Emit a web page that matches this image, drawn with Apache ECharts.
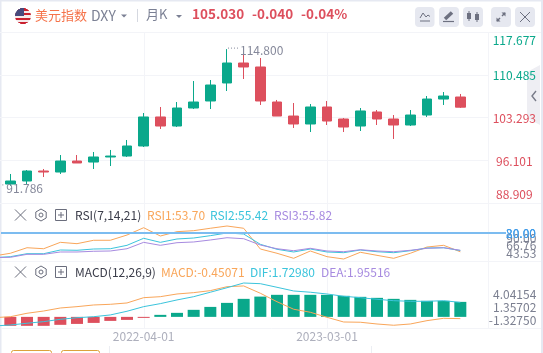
<!DOCTYPE html>
<html><head><meta charset="utf-8">
<style>html,body{margin:0;padding:0;background:#fff}#c{width:543px;height:353px}</style>
<script src="https://cdn.jsdelivr.net/npm/echarts@6/dist/echarts.min.js"></script>
</head><body><div id="c"></div>
<script>
const months = ['2021-07-01','2021-08-01','2021-09-01','2021-10-01','2021-11-01','2021-12-01','2022-01-01','2022-02-01','2022-03-01','2022-04-01','2022-05-01','2022-06-01','2022-07-01','2022-08-01','2022-09-01','2022-10-01','2022-11-01','2022-12-01','2023-01-01','2023-02-01','2023-03-01','2023-04-01','2023-05-01','2023-06-01','2023-07-01','2023-08-01','2023-09-01','2023-10-01','2023-11-01',''];
// open, close, low, high
const ohlc = ['-',
[92.10,92.61,91.786,93.79],[92.61,94.29,91.94,94.46],[94.29,94.12,93.28,94.63],[94.12,95.97,93.79,96.98],
[95.97,95.64,95.64,96.98],[95.80,96.65,94.63,97.49],[96.65,96.81,95.13,97.83],[96.81,98.50,96.65,99.51],
[98.50,103.38,98.33,104.05],[103.38,101.86,101.36,105.06],[101.86,104.89,101.69,105.90],[104.89,105.90,104.72,109.43],
[106.07,108.76,104.72,109.60],[109.10,112.46,107.75,114.80],[112.46,111.79,109.77,114.14],[111.79,106.07,105.40,113.30],
[105.90,103.54,103.54,106.24],[103.54,102.20,101.53,105.73],[102.20,105.06,100.85,105.56],[105.06,102.70,102.03,106.07],
[103.04,101.69,100.85,103.21],[101.86,104.39,101.02,104.89],[104.22,103.04,102.03,104.55],[103.04,102.03,99.68,103.71],
[102.03,103.71,101.86,104.55],[103.71,106.40,103.38,106.91],[106.40,106.91,105.40,107.58],[106.74,105.03,104.89,107.25]];
const priceTicks = [88.909,96.101,103.293,110.485,117.677];
const rsi1 = [47.7,51.6,59.4,58.0,67.0,65.1,69.9,69.9,77.3,87.6,75.9,82.0,83.4,86.8,90.0,86.8,57.6,51.6,44.5,54.8,46.8,43.53,53.0,48.7,44.5,51.6,60.4,62.8,53.70];
const rsi2 = [45.4,46.8,51.0,51.0,56.2,55.8,57.6,58.0,62.8,72.7,67.0,71.7,73.1,76.4,80.2,78.7,64.2,57.2,53.4,57.6,53.4,52.4,56.2,53.8,52.4,55.2,59.0,59.4,55.42];
const rsi3 = [45.5,45.9,50.1,50.1,53.4,53.4,54.4,54.8,58.0,67.0,62.8,66.5,67.5,70.3,73.5,72.1,63.2,58.0,55.2,58.6,54.8,53.8,56.6,54.8,53.8,55.8,58.6,59.4,55.82];
const rsiTicksOuter = [43.53,90.00];
const rsiTicksMiddle = [66.76];
const rsiLevel = 80;
const macdBars = ['-',-1.07,-1.07,-1.07,-0.95,-0.84,-0.72,-0.48,-0.36,-0.12,0.24,0.48,0.84,1.19,1.67,2.15,2.42,2.63,2.63,2.63,2.63,2.51,2.39,2.27,2.15,2.03,1.91,1.91,1.79];
const macdLine = [-0.10,0.02,0.43,0.70,1.06,1.22,1.42,1.50,1.66,2.29,2.41,2.73,2.89,3.13,3.60,3.69,2.82,1.81,0.91,0.55,-0.05,-0.61,-0.64,-0.85,-1.00,-0.85,-0.45,-0.17,-0.21];
const difLine = [-1.09,-0.97,-0.76,-0.57,-0.29,-0.10,0.02,0.23,0.67,1.22,1.58,2.02,2.41,2.94,3.48,4.04,3.96,3.53,3.09,2.94,2.73,2.46,2.29,2.10,1.93,1.86,1.86,1.93,1.73];
const macdTicks = [-1.3275,1.35702,4.04154];

const GREEN='#0aa88b', RED='#dd4f5d', ORANGE='#f9a65a', CYAN='#3bc4dc', PURPLE='#a78be0', RULE='#f3f4f8', GREY='#7b7f90', BLUE='#3f9be8';
const FONT='"Noto Sans CJK SC","Noto Sans",sans-serif';
const L=-14.67, W=500;
const chart = echarts.init(document.getElementById('c'),null,{renderer:'canvas'});

const xAxisBase = g => ({type:'category',gridIndex:g,data:months,boundaryGap:true,axisLine:{show:false},axisTick:{show:false},splitLine:{show:false},axisLabel:{show:false}});
const hidden = (g,min,max) => ({type:'value',gridIndex:g,min,max,show:false,splitLine:{show:false}});
const labelAxis = (g,min,max,ticks,fmt) => ({type:'value',gridIndex:g,min,max,position:'right',
  axisLine:{show:false},axisTick:{show:false},splitLine:{show:false},
  axisLabel:{show:true,customValues:ticks,formatter:fmt,color:GREY,fontSize:12,fontFamily:FONT,align:'right',margin:51,showMinLabel:true,showMaxLabel:true,hideOverlap:false}});

const option = {
  animation:false, backgroundColor:'#fff',
  grid:[
    {left:L,width:W,top:32,height:171,outerBoundsMode:'none'},
    {left:L,width:W,top:226,height:33,outerBoundsMode:'none'},
    {left:L,width:W,top:283,height:45,outerBoundsMode:'none'}
  ],
  xAxis:[xAxisBase(0),xAxisBase(1),
    Object.assign(xAxisBase(2),{axisLabel:{show:true,interval:i=>i===9||i===20,color:'#adafbc',fontSize:12,fontFamily:FONT,margin:2,hideOverlap:false}})],
  yAxis:[
    {type:'value',gridIndex:0,min:88.909,max:117.677,position:'right',
     axisLine:{show:false},axisTick:{show:false,customValues:priceTicks},
     splitLine:{show:true,lineStyle:{color:RULE,width:1}},
     axisLabel:{customValues:priceTicks,
       formatter:v=>v===priceTicks[0]?'{low|'+v.toFixed(3)+'}':v.toFixed(3),
       rich:{low:{color:RED,fontSize:12,fontFamily:FONT,padding:[0,0,3,0]}},
       color:v=>v>105?GREEN:RED,fontSize:12,fontFamily:FONT,align:'center',margin:29,padding:[2,0,0,0],
       verticalAlignMinLabel:'bottom',verticalAlignMaxLabel:'top',showMinLabel:true,showMaxLabel:true,hideOverlap:false}},
    hidden(1,43.53,90),
    hidden(2,-1.3275,4.04154),
    labelAxis(1,24.94,127.17,rsiTicksOuter,v=>v.toFixed(2)),
    labelAxis(1,24.94,127.17,rsiTicksMiddle,v=>v.toFixed(2)),
    labelAxis(2,-3.015,6.4255,macdTicks,v=>v===-1.3275?'-1.32750':v.toFixed(5))
  ],
  series:[
    {type:'candlestick',xAxisIndex:0,yAxisIndex:0,data:ohlc,barWidth:10,
     itemStyle:{color:GREEN,color0:RED,borderColor:GREEN,borderColor0:RED,borderWidth:1},
     markPoint:{symbol:'circle',symbolSize:0,silent:true,
       data:[
        {coord:[months[14],114.8],label:{show:true,formatter:'114.800',position:'right',distance:13,offset:[0,1],color:'#85889a',fontSize:12,fontFamily:FONT}},
        {coord:[months[1],91.786],label:{show:true,formatter:'91.786',position:'right',distance:-4,offset:[0,3],color:'#85889a',fontSize:12,fontFamily:FONT}}
       ]}},
    {type:'line',xAxisIndex:1,yAxisIndex:1,data:rsi1,showSymbol:false,lineStyle:{color:ORANGE,width:1},clip:false,
     markLine:{silent:true,symbol:'none',animation:false,
       lineStyle:{color:'#7cbcf0',width:2,type:'solid'},
       label:{show:false},
       data:[[{x:1,yAxis:rsiLevel},{x:506,yAxis:rsiLevel}]]}},
    {type:'line',xAxisIndex:1,yAxisIndex:1,data:rsi2,showSymbol:false,lineStyle:{color:CYAN,width:1},clip:false},
    {type:'line',xAxisIndex:1,yAxisIndex:1,data:rsi3,showSymbol:false,lineStyle:{color:PURPLE,width:1},clip:false},
    {type:'line',xAxisIndex:2,yAxisIndex:2,data:macdLine,showSymbol:false,lineStyle:{color:ORANGE,width:1},clip:false},
    {type:'line',xAxisIndex:2,yAxisIndex:2,data:difLine,showSymbol:false,lineStyle:{color:CYAN,width:1},clip:false},
    {type:'bar',xAxisIndex:2,yAxisIndex:2,data:macdBars,barWidth:12,z:3,itemStyle:{color:p=>p.value<0?RED:GREEN}}
  ]
};
chart.setOption(option);

// chrome: header, toolbar, indicator legends, rules
const g=[];
const Z=-10;
const line=(x1,y1,x2,y2,c,w,extra)=>g.push({type:'line',silent:true,z:extra&&extra.z||Z,shape:{x1,y1,x2,y2},style:Object.assign({stroke:c,lineWidth:w||1},extra&&extra.style||{})});
const rect=(x,y,w,h,fill,r,stroke)=>g.push({type:'rect',silent:true,z:Z,shape:{x,y,width:w,height:h,r:r||0},style:{fill:fill||'none',stroke:stroke||null,lineWidth:1}});
const text=(x,y,t,c,size,weight,extra)=>g.push({type:'text',silent:true,z:5,x,y,style:Object.assign({text:t,fill:c,fontSize:size,fontWeight:weight||'normal',fontFamily:FONT,textVerticalAlign:'middle',verticalAlign:'middle'},extra||{})});
const poly=(pts,c,w)=>g.push({type:'polyline',silent:true,z:6,shape:{points:pts},style:{stroke:c,lineWidth:w||1,fill:'none'}});
const fillPoly=(pts,c,z)=>g.push({type:'polygon',silent:true,z:z==null?Z:z,shape:{points:pts},style:{fill:c}});

// page frame
const EDGE='#e6e9f2';
rect(0,0,543,1.5,EDGE); rect(0,0,1.5,353,EDGE); rect(541,0,2,353,EDGE);
// horizontal rules
[32,203,261,328].forEach(y=>line(1.5,y+.5,541,y+.5,RULE));
[75,117,160].forEach(y=>line(485,y+.5,488.5,y+.5,RULE));
// vertical rules through all panels
[months[9],months[20]].forEach(m=>{
  const x=Math.round(chart.convertToPixel({xAxisIndex:0},m))+.5;
  line(x,32,x,328,RULE);
});
line(488.5,32,488.5,328,RULE);
// bottom strip
rect(11.5,350.5,40,6,'#fff',2,'#dca23c'); rect(61.5,350.5,38,6,'#fff',2,'#dca23c');
line(109.5,346,109.5,353,'#eceef3'); line(371.5,346,371.5,353,'#eceef3');
// side tab
fillPoly([[527,72],[540,65],[540,125],[527,118]],'#eeeef3');
poly([[536,91],[532,96],[536,101]],'#777a88',1.4);

// flag
const cx=23,cy=16,r=8;
for(let i=0;i<16;i++){
  const y=cy-r+i+.5, half=Math.sqrt(Math.max(0,r*r-(y-cy)*(y-cy)));
  const stripe=Math.floor(i/2.3)%2===0?'#c9202f':'#f6e9ea';
  g.push({type:'line',silent:true,z:Z,shape:{x1:cx-half,y1:y,x2:cx+half,y2:y},style:{stroke:stripe,lineWidth:1}});
  if(i<8) g.push({type:'line',silent:true,z:Z,shape:{x1:cx-half,y1:y,x2:cx+1,y2:y},style:{stroke:'#474a7d',lineWidth:1}});
}
// header text
text(35,15,'美元指数','#f5734a',13);
text(91,16,'DXY','#7b8094',14);
fillPoly([[121,14.5],[127,14.5],[124,17.5]],'#7b8094',6);
line(137.5,9,137.5,22,'#d5d8e0',1);
text(146,14.5,'月K','#7b8094',13);
fillPoly([[176,15],[182,15],[179,18]],'#7b8094',6);
text(192,14,'105.030',RED,13.5,'bold');
text(252,14,'-0.040',RED,13.5,'bold');
text(301,14,'-0.04%',RED,13.5,'bold');

// toolbar
[[415,19.5],[439,20],[463,20],[491,20],[515,20]].forEach(b=>rect(b[0],7,b[1],20,'#e6e8f0',4));
const IC='#6d7080';
poly([[420,18],[423,13],[426,17],[428,15],[430,16.5]],IC,1); line(420,21,430,21,IC,1,{z:6});
line(445,19,452,12.5,IC,3.5,{z:6}); line(443,21.5,454,21.5,IC,1.2,{z:6});
line(469,11,469,21,IC,1,{z:6}); g.push({type:'rect',silent:true,z:6,shape:{x:467,y:13,width:4,height:6},style:{fill:IC}});
line(477,12,477,22,IC,1,{z:6}); g.push({type:'rect',silent:true,z:6,shape:{x:475,y:14,width:4,height:6},style:{fill:IC}});
line(497,21,500,18,IC,1.4,{z:6}); line(502,16,505,13,IC,1.4,{z:6});
fillPoly([[505.5,12.5],[501.5,12.5],[505.5,16.5]],IC,6); fillPoly([[496.5,21.5],[500.5,21.5],[496.5,17.5]],IC,6);
line(520,12,530,22,IC,1,{z:6}); line(530,12,520,22,IC,1,{z:6});

// panel headers
function panelIcons(yc){
  const c='#6a6d7c';
  line(15,yc-5.5,26,yc+5.5,c,1,{z:6}); line(26,yc-5.5,15,yc+5.5,c,1,{z:6});
  const hx=[];for(let i=0;i<7;i++){const a=Math.PI/3*i+Math.PI/6;hx.push([41+6*Math.cos(a),yc+6*Math.sin(a)]);}
  poly(hx,c,1);
  g.push({type:'circle',silent:true,z:6,shape:{cx:41,cy:yc,r:2},style:{fill:'none',stroke:c,lineWidth:1}});
  g.push({type:'rect',silent:true,z:6,shape:{x:55.5,y:yc-5.5,width:11,height:11},style:{fill:'none',stroke:c,lineWidth:1}});
  line(58,yc,64,yc,c,1,{z:6}); line(61,yc-3,61,yc+3,c,1,{z:6});
}
panelIcons(215); panelIcons(272);
text(75,215,'RSI(7,14,21)','#3b3d4a',12);
text(147,215,'RSI1:53.70',ORANGE,12);
text(210,215,'RSI2:55.42',CYAN,12);
text(274,215,'RSI3:55.82',PURPLE,12);
text(75,272,'MACD(12,26,9)','#3b3d4a',12);
text(161,272,'MACD:-0.45071',ORANGE,12);
text(250,272,'DIF:1.72980',CYAN,12);
text(321,272,'DEA:1.95516',PURPLE,12);
// level labels of the RSI band, on top of one another in the original
text(506,233,'80.00',BLUE,12); text(506,233,'20.00',BLUE,12);
// leaders of the high/low annotations
const hi=chart.convertToPixel({xAxisIndex:0,yAxisIndex:0},[months[14],114.8]);
line(hi[0]+1,hi[1]-1,hi[0]+11,hi[1]-1,'#85889a',1,{z:6,style:{lineDash:[1,2]}});
const lo=chart.convertToPixel({xAxisIndex:0,yAxisIndex:0},[months[1],91.786]);
line(lo[0]-8,lo[1]-1,lo[0]-5,lo[1]-1,'#85889a',1,{z:6,style:{lineDash:[1,2]}});

chart.setOption({graphic:{elements:g}});
</script></body></html>
